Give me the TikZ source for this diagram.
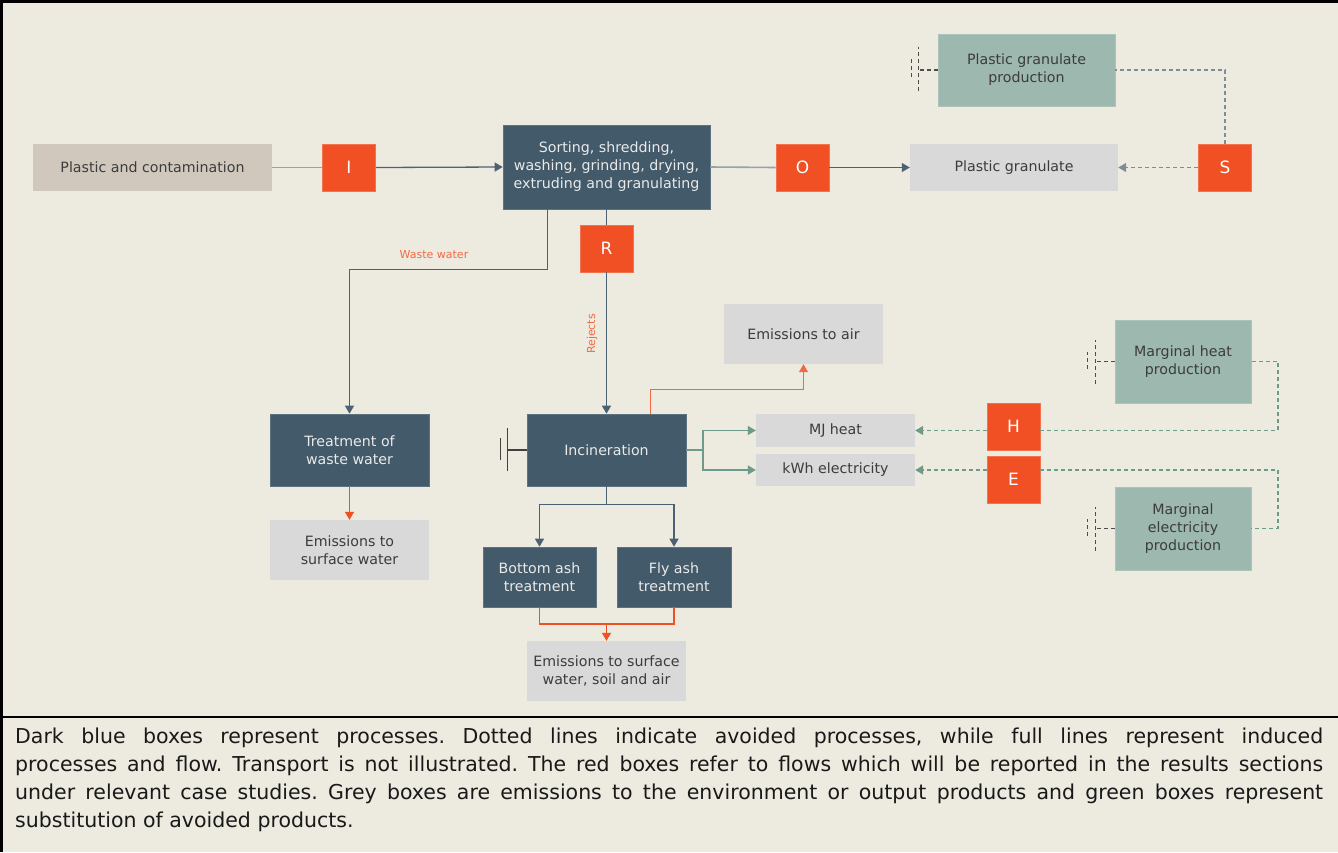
\documentclass[tikz,border=0pt]{standalone}
\usepackage{fontspec}
\setmainfont{DejaVu Sans}
\newfontfamily\capfont{DejaVu Sans}
\usetikzlibrary{arrows.meta,positioning,calc}

\definecolor{bgcol}{HTML}{EDEAE0}
\definecolor{procol}{HTML}{425A69}
\definecolor{flowred}{HTML}{F05023}
\definecolor{emigrey}{HTML}{D9D9D9}
\definecolor{inbeige}{HTML}{D0C8BC}
\definecolor{avgreen}{HTML}{9DB8AE}
\definecolor{linedark}{HTML}{4C6272}
\definecolor{linegrey}{HTML}{95A3A8}
\definecolor{linegreen}{HTML}{6E9A8A}
\definecolor{lineorange}{HTML}{EE6A45}
\definecolor{dashgrey}{HTML}{7F8C95}
\definecolor{txtdark}{HTML}{3C3C3C}
\definecolor{txtlight}{HTML}{EAEAEA}

\tikzset{
  base/.style={inner sep=0pt, align=center, font=\fontsize{14.2}{18}\selectfont},
  procbox/.style={base, fill=procol, text=txtlight, draw=procol!85!white, line width=0.6pt},
  emibox/.style={base, fill=emigrey, text=txtdark},
  inbox/.style={base, fill=inbeige, text=txtdark},
  avbox/.style={base, fill=avgreen, text=txtdark, draw=avgreen!85!white, line width=0.6pt},
  flowbox/.style={base, fill=flowred, text=white, draw=flowred!80!white, line width=0.6pt,
    minimum width=53pt, minimum height=47pt, font=\fontsize{17}{20}\selectfont},
  tip/.style={-{Triangle[width=9pt,length=8pt]}},
  flow/.style={draw=linedark, line width=1.3pt},
  grflow/.style={draw=linegrey, line width=1.6pt},
  greenflow/.style={draw=linegreen, line width=1.3pt},
  emiflow/.style={draw=flowred, line width=1.3pt},
  lightemi/.style={draw=lineorange, line width=1.3pt},
  avoided/.style={draw=dashgrey, line width=1.2pt, dash pattern=on 4pt off 3pt},
  avoidedg/.style={draw=linegreen, line width=1.2pt, dash pattern=on 4pt off 3pt},
  groundline/.style={draw=black!75, line width=1.5pt},
  cutline/.style={draw=black!70, line width=1.2pt, dash pattern=on 4pt off 3pt},
  lbl/.style={text=flowred!85!white, font=\fontsize{11}{13}\selectfont, inner sep=0pt}
}

\begin{document}
\begin{tikzpicture}[x=1pt,y=-1pt]
  % canvas and frame
  \fill[bgcol] (0,0) rectangle (1338,852);
  \useasboundingbox (0,0) rectangle (1338,852);
  \draw[black, line width=3pt] (0,1.5) -- (1338,1.5);
  \draw[black, line width=2.5pt] (1.25,0) -- (1.25,852);
  \draw[black, line width=2pt] (0,717) -- (1338,717);

  % boxes
  \node[inbox, minimum width=239pt, minimum height=47pt] (pc) at (152.5,167.5) {Plastic and contamination};
  \node[flowbox] (I) at (349,167.5) {I};
  \node[procbox, minimum width=207pt, minimum height=84pt] (sort) at (606.5,167)
    {Sorting, shredding,\\washing, grinding, drying,\\extruding and granulating};
  \node[flowbox] (O) at (802.5,167.5) {O};
  \node[emibox, minimum width=208pt, minimum height=47pt] (pg) at (1014,167.5) {Plastic granulate};
  \node[flowbox] (S) at (1225,167.5) {S};
  \node[avbox, minimum width=177pt, minimum height=72pt] (pgp) at (1026.5,70) {Plastic granulate\\production};
  \node[flowbox] (R) at (606.5,248.5) {R};
  \node[emibox, minimum width=159pt, minimum height=60pt] (ea) at (803.5,334) {Emissions to air};
  \node[procbox, minimum width=159pt, minimum height=72pt] (inc) at (606.5,450) {Incineration};
  \node[emibox, minimum width=159pt, minimum height=33pt] (mj) at (835.5,430.5) {MJ heat};
  \node[emibox, minimum width=159pt, minimum height=32pt] (kwh) at (835.5,470) {kWh electricity};
  \node[flowbox] (H) at (1013.5,426.5) {H};
  \node[flowbox] (E) at (1013.5,479.5) {E};
  \node[avbox, minimum width=136pt, minimum height=83pt] (mhp) at (1183,361.5) {Marginal heat\\production};
  \node[avbox, minimum width=136pt, minimum height=83pt] (mep) at (1183,528.5) {Marginal\\electricity\\production};
  \node[procbox, minimum width=159pt, minimum height=72pt] (tww) at (349.5,450) {Treatment of\\waste water};
  \node[emibox, minimum width=159pt, minimum height=60pt] (esw) at (349.5,550) {Emissions to\\surface water};
  \node[procbox, minimum width=113pt, minimum height=60pt] (ba) at (539.5,577) {Bottom ash\\treatment};
  \node[procbox, minimum width=114pt, minimum height=60pt] (fa) at (674,577) {Fly ash\\treatment};
  \node[emibox, minimum width=159pt, minimum height=60pt] (esa) at (606.5,671) {Emissions to surface\\water, soil and air};

  % main process chain
  \draw[grflow] (pc.east) -- (I.west);
  \draw[flow, tip] (I.east) -- (sort.west);
  \draw[grflow] (sort.east) -- (O.west);
  \draw[flow, tip] (O.east) -- (pg.west);

  % waste water branch
  \draw[flow, tip] ([xshift=45pt]sort.south west) -- ++(0,60) -| (tww.north);
  \node[lbl] (wwl) at (434,255) {Waste water};
  \draw[emiflow, tip] (tww.south) -- (esw.north);

  % rejects branch
  \draw[flow] (sort.south) -- (R.north);
  \draw[flow, tip] (R.south) -- (inc.north);
  \node[lbl, rotate=90] (rjl) at (592,334) {Rejects};

  % incineration outputs
  \draw[lightemi, tip] ([xshift=124pt]inc.north west) -- ++(0,-24) -| (ea.south);
  \coordinate (split) at (703,450);
  \draw[greenflow] (inc.east |- split) -- (split);
  \draw[greenflow, tip] (split) |- (mj.west);
  \draw[greenflow, tip] (split) |- (kwh.west);
  \draw[flow, tip] (inc.south) -- ++(0,18) -| (ba.north);
  \draw[flow, tip] (inc.south) -- ++(0,18) -| (fa.north);
  \coordinate (ashjoin) at (606.5,624);
  \draw[emiflow] (ba.south) |- (ashjoin) -| (fa.south);
  \draw[emiflow, tip] (ashjoin) -- (esa.north);

  % incineration input cut-off
  \draw[groundline] (inc.west) -- ++(-19,0) coordinate (gnd);
  \draw[groundline] ([yshift=-21pt]gnd) -- ([yshift=22pt]gnd);
  \draw[groundline] ([xshift=-7pt,yshift=-10pt]gnd) -- ([xshift=-7pt,yshift=12pt]gnd);

  % substitution of plastic granulate
  \draw[avoided, tip] (S.west) -- (pg.east);
  \draw[avoided] (S.north) |- (pgp.east);
  \draw[cutline] (pgp.west) -- ++(-19,0) coordinate (cg);
  \draw[cutline] ([yshift=-21pt]cg) -- ([yshift=23pt]cg);
  \draw[cutline] ([xshift=-7pt,yshift=-7pt]cg) -- ([xshift=-7pt,yshift=11pt]cg);

  % substitution of heat
  \draw[avoidedg, tip] (H.west |- mj.east) -- (mj.east);
  \coordinate (hturn) at (1278,430.5);
  \draw[avoidedg] (H.east |- mj.east) -- (hturn) |- (mhp.east);
  \draw[cutline] (mhp.west) -- ++(-19,0) coordinate (ch);
  \draw[cutline] ([yshift=-22pt]ch) -- ([yshift=22pt]ch);
  \draw[cutline] ([xshift=-8pt,yshift=-7pt]ch) -- ([xshift=-8pt,yshift=10pt]ch);

  % substitution of electricity
  \draw[avoidedg, tip] (E.west |- kwh.east) -- (kwh.east);
  \coordinate (eturn) at (1278,470);
  \draw[avoidedg] (E.east |- kwh.east) -- (eturn) |- (mep.east);
  \draw[cutline] (mep.west) -- ++(-19,0) coordinate (ce);
  \draw[cutline] ([yshift=-22pt]ce) -- ([yshift=22pt]ce);
  \draw[cutline] ([xshift=-8pt,yshift=-7pt]ce) -- ([xshift=-8pt,yshift=10pt]ce);

  % caption
  \node[anchor=north west, inner sep=0pt, text width=1308pt, align=justify,
        text=black!90, font=\capfont\fontsize{20.5}{28}\selectfont\frenchspacing] (cap) at (15,728)
    {Dark blue boxes represent processes. Dotted lines indicate avoided processes, while full lines represent induced\linebreak
     processes and flow. Transport is not illustrated. The red boxes refer to flows which will be reported in the results sections\linebreak
     under relevant case studies. Grey boxes are emissions to the environment or output products and green boxes represent\linebreak
     substitution of avoided products.};
\end{tikzpicture}
\end{document}
